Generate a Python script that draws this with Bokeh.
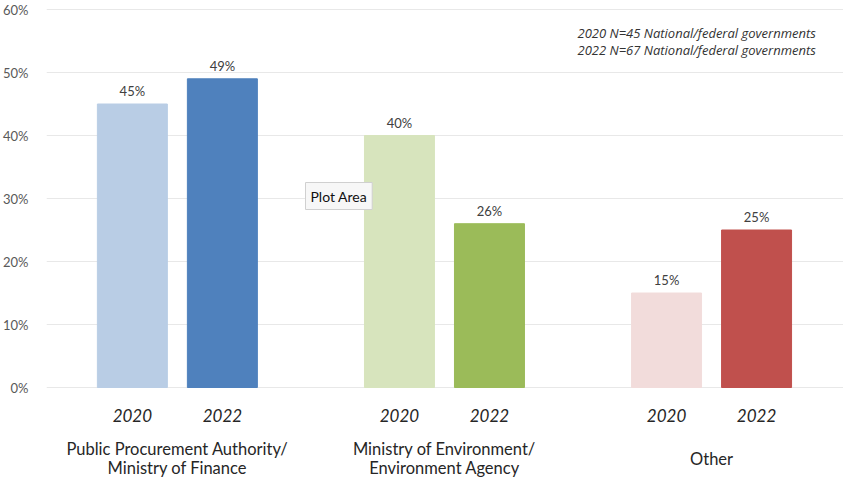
from bokeh.plotting import figure
from bokeh.models import ColumnDataSource, FixedTicker, PrintfTickFormatter, Label, Range1d
from bokeh.core.properties import value
from bokeh.embed import file_html
from bokeh.resources import INLINE

# ---- data ----
groups = ["Public Procurement Authority/\nMinistry of Finance",
          "Ministry of Environment/\nEnvironment Agency",
          "Other"]
years = ["2020", "2022"]
values_2020 = [45, 40, 15]
values_2022 = [49, 26, 25]
colors_2020 = ["#b9cde5", "#d7e4bd", "#f2dcdb"]
colors_2022 = ["#4f81bd", "#9bbb59", "#c0504d"]
y_ticks = [0, 10, 20, 30, 40, 50, 60]
note_lines = ["2020  N=45 National/federal governments",
              "2022 N=67 National/federal governments"]

# ---- layout constants ----
offset = 0.1685
bar_w = 0.262
FONT = "Lato"

xs, tops, cols, labs, yrs = [], [], [], [], []
for i in range(len(groups)):
    for off, vals, cs, yr in ((-offset, values_2020, colors_2020, years[0]),
                              (offset, values_2022, colors_2022, years[1])):
        xs.append(i + off)
        tops.append(vals[i])
        cols.append(cs[i])
        labs.append(f"{vals[i]}%")
        yrs.append(yr)
src = ColumnDataSource(dict(x=xs, top=tops, color=cols, label=labs, year=yrs))

p = figure(width=843, height=480, output_backend="svg", toolbar_location=None,
           x_range=Range1d(-0.49, 2.494), y_range=Range1d(-14.76, 61.43),
           min_border_left=43, min_border_right=0, min_border_top=0, min_border_bottom=0)
p.outline_line_color = None
p.background_fill_color = "white"
p.border_fill_color = "white"

p.xaxis.visible = False
p.xgrid.visible = False
p.yaxis.ticker = FixedTicker(ticks=y_ticks)
p.yaxis.formatter = PrintfTickFormatter(format="%d%%")
p.yaxis.axis_line_color = None
p.yaxis.major_tick_line_color = None
p.yaxis.minor_tick_line_color = None
p.yaxis.major_label_standoff = 12
p.yaxis.major_label_text_font = FONT
p.yaxis.major_label_text_font_size = "13px"
p.yaxis.major_label_text_color = "#595959"
p.ygrid.ticker = FixedTicker(ticks=y_ticks)
p.ygrid.grid_line_color = "#e8e8e8"
p.ygrid.grid_line_width = 1

p.vbar(x="x", top="top", width=bar_w, bottom=0, color="color", source=src)

p.text(x="x", y="top", text="label", source=src, text_align="center",
       text_baseline="bottom", y_offset=-5, text_font=value(FONT),
       text_font_size="13px", text_color="#404040")

p.text(x="x", y=-4.44, text="year", source=src, text_align="center",
       text_baseline="middle", text_font=value(FONT), text_font_style="italic",
       text_font_size="17px", text_color="#262626")

# group labels, line by line
gx, gy, gt = [], [], []
for i, g in enumerate(groups):
    lines = g.split("\n")
    n = len(lines)
    for j, ln in enumerate(lines):
        gx.append(i)
        gy.append(-11.3 - (j - (n - 1) / 2) * 2.95)
        gt.append(ln)
p.text(x=gx, y=gy, text=gt, text_align="center", text_baseline="middle",
       text_font=value(FONT), text_font_size="16.5px", text_color="#262626")

for k, ln in enumerate(note_lines):
    p.add_layout(Label(x=577 - 46, y=480 - 32 - k * 17, x_units="screen", y_units="screen",
                       text=ln, text_font="Open Sans", text_font_style="italic",
                       text_font_size="13px", text_color="#333333",
                       text_baseline="middle"))

p.add_layout(Label(x=305 - 46, y=480 - 209, x_units="screen", y_units="screen",
                   text="Plot Area", text_font="Lato", text_font_size="14px",
                   text_color="#111111", background_fill_color="#f7f7f7",
                   border_line_color="#d0d0d0", padding=5))

open("out.html", "w").write(file_html(p, INLINE))
